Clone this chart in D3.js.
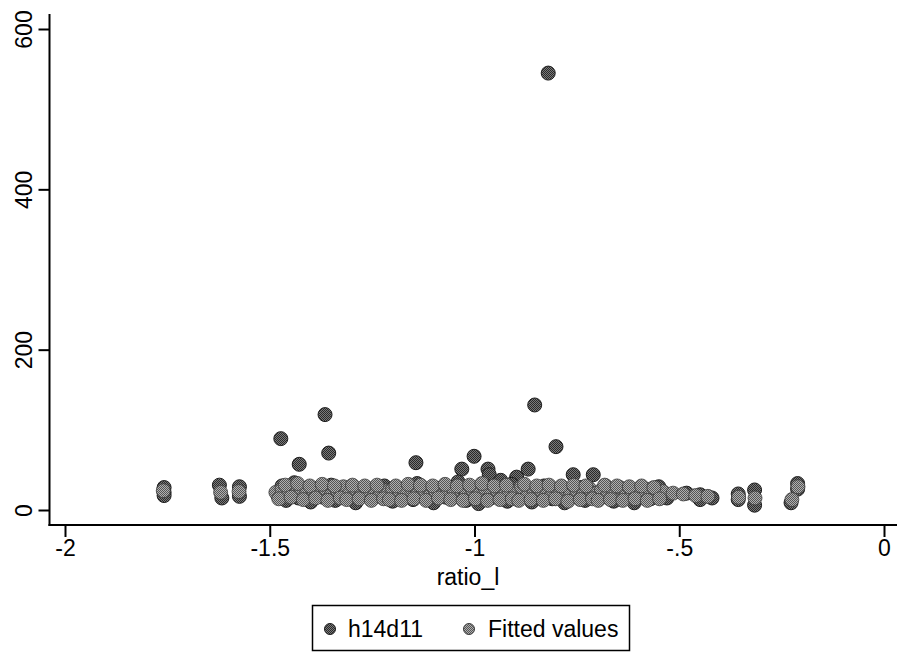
<!DOCTYPE html>
<html>
<head>
<meta charset="utf-8">
<script src="https://cdn.jsdelivr.net/npm/d3@7/dist/d3.min.js"></script>
<style>
  html, body { margin: 0; padding: 0; background: #fff; }
  svg { display: block; font-family: "Liberation Sans", Arial, sans-serif; }
</style>
</head>
<body>
<svg id="chart" width="897" height="652"></svg>
<script>
// ---- data ----
const xTicks = [-2, -1.5, -1, -0.5, 0];
const xTickLabels = ["-2", "-1.5", "-1", "-.5", "0"];
const yTicks = [0, 200, 400, 600];
const yTickLabels = ["0", "200", "400", "600"];
const xTitle = "ratio_l";
const seriesNames = ["h14d11", "Fitted values"];

// h14d11 observations: [ratio_l, value]
const h14d11 = [
  [-0.82, 545], [-0.853, 131], [-1.365, 119], [-1.473, 89], [-1.428, 57], [-1.356, 71],
  [-1.143, 59], [-1.031, 51], [-1.001, 67], [-0.967, 51], [-0.964, 44], [-0.936, 37],
  [-0.897, 41], [-0.869, 51], [-0.801, 79], [-0.759, 44], [-0.710, 44],
  [-1.758, 28], [-1.758, 22], [-1.758, 18], [-1.623, 31], [-1.617, 15], [-1.574, 29], [-1.574, 17],
  [-0.356, 20], [-0.356, 13], [-0.316, 25], [-0.316, 6], [-0.227, 9], [-0.211, 33], [-0.211, 26],
  [-0.482, 21], [-0.449, 19], [-0.449, 13], [-0.42, 15], [-0.54, 22], [-0.53, 15],
  [-1.48, 18], [-1.47, 30], [-1.46, 12], [-1.45, 25], [-1.44, 34], [-1.43, 15], [-1.41, 22],
  [-1.40, 10], [-1.38, 28], [-1.37, 16], [-1.35, 31], [-1.34, 12], [-1.32, 24], [-1.30, 18],
  [-1.29, 9], [-1.27, 27], [-1.25, 14], [-1.24, 22], [-1.22, 30], [-1.20, 11], [-1.19, 19],
  [-1.17, 26], [-1.15, 13], [-1.14, 33], [-1.12, 20], [-1.10, 9], [-1.09, 27], [-1.07, 16],
  [-1.05, 23], [-1.04, 35], [-1.02, 12], [-1.00, 20], [-0.99, 8], [-0.97, 29], [-0.96, 15],
  [-0.94, 24], [-0.92, 11], [-0.91, 32], [-0.89, 18], [-0.88, 26], [-0.86, 10], [-0.84, 22],
  [-0.83, 30], [-0.81, 14], [-0.79, 25], [-0.78, 9], [-0.76, 19], [-0.74, 28], [-0.73, 12],
  [-0.71, 21], [-0.69, 16], [-0.68, 30], [-0.66, 11], [-0.64, 24], [-0.62, 17], [-0.61, 9],
  [-0.59, 26], [-0.57, 14], [-0.56, 21], [-0.55, 29]
];

// Fitted values: [ratio_l, fitted]
const fitted = [
  [-1.485, 22], [-1.47, 26], [-1.455, 19], [-1.44, 23], [-1.425, 28], [-1.41, 20], [-1.395, 25],
  [-1.38, 21], [-1.365, 27], [-1.35, 18], [-1.335, 24], [-1.32, 29], [-1.305, 21], [-1.29, 25],
  [-1.275, 19], [-1.26, 23], [-1.245, 27], [-1.23, 20], [-1.215, 24], [-1.20, 26], [-1.185, 18],
  [-1.17, 22], [-1.155, 28], [-1.14, 21], [-1.125, 25], [-1.11, 17], [-1.095, 23], [-1.08, 27],
  [-1.065, 20], [-1.05, 24], [-1.035, 29], [-1.02, 19], [-1.005, 25], [-0.99, 22], [-0.975, 28],
  [-0.96, 18], [-0.945, 24], [-0.93, 27], [-0.915, 20], [-0.90, 23], [-0.885, 29], [-0.87, 17],
  [-0.855, 24], [-0.84, 21], [-0.825, 27], [-0.81, 19], [-0.795, 23], [-0.78, 26], [-0.765, 20],
  [-0.75, 24], [-0.735, 18], [-0.72, 27], [-0.705, 21], [-0.69, 25], [-0.675, 19], [-0.66, 23],
  [-0.645, 28], [-0.63, 20], [-0.615, 24], [-0.60, 18], [-0.585, 22], [-0.57, 26], [-0.555, 20],
  [-0.54, 23], [-0.515, 21], [-0.49, 20], [-0.46, 18], [-0.43, 17],
  [-1.76, 24], [-1.62, 22], [-1.575, 23], [-0.355, 16], [-0.315, 15], [-0.225, 13], [-0.21, 29],
  [-1.478, 14], [-1.462, 31], [-1.448, 16], [-1.432, 33], [-1.418, 13], [-1.402, 30], [-1.388, 15],
  [-1.372, 32], [-1.358, 12], [-1.342, 30], [-1.328, 15], [-1.312, 13], [-1.298, 31], [-1.282, 14],
  [-1.268, 30], [-1.252, 12], [-1.238, 31], [-1.222, 14], [-1.208, 13], [-1.192, 30], [-1.178, 12],
  [-1.162, 32], [-1.148, 14], [-1.132, 31], [-1.118, 12], [-1.102, 30], [-1.088, 15], [-1.072, 32],
  [-1.058, 13], [-1.042, 30], [-1.028, 12], [-1.012, 31], [-0.998, 14], [-0.982, 33], [-0.968, 12],
  [-0.952, 30], [-0.938, 13], [-0.922, 31], [-0.908, 14], [-0.892, 12], [-0.878, 32], [-0.862, 13],
  [-0.848, 30], [-0.832, 12], [-0.818, 31], [-0.802, 14], [-0.788, 30], [-0.772, 11], [-0.758, 31],
  [-0.742, 13], [-0.728, 30], [-0.712, 14], [-0.698, 12], [-0.682, 31], [-0.668, 13], [-0.652, 30],
  [-0.638, 12], [-0.622, 29], [-0.608, 14], [-0.592, 30], [-0.578, 12], [-0.562, 28], [-0.548, 14]
];

// ---- drawing ----
const svg = d3.select("#chart");
const x = d3.scaleLinear().domain([-2, 0]).range([65, 884]);
const y = d3.scaleLinear().domain([0, 600]).range([510, 29]);
const plotLeft = 49.5, plotBottom = 525, plotTop = 14, plotRight = 897;

const colors = { hStroke: "#1e1e1e", fStroke: "#3c3c3c" };
const R = 7;

// halftone-like patterns
const defs = svg.append("defs");
function pattern(id, bg, dot) {
  const p = defs.append("pattern").attr("id", id).attr("width", 2).attr("height", 2)
    .attr("patternUnits", "userSpaceOnUse");
  p.append("rect").attr("width", 2).attr("height", 2).attr("fill", bg);
  p.append("rect").attr("width", 1).attr("height", 1).attr("fill", dot);
  p.append("rect").attr("x", 1).attr("y", 1).attr("width", 1).attr("height", 1).attr("fill", dot);
}
pattern("patH", "#7a7a7a", "#2a2a2a");
pattern("patF", "#b0b0b0", "#555");

// markers
svg.append("g").selectAll("circle").data(h14d11).join("circle")
  .attr("cx", d => x(d[0])).attr("cy", d => y(d[1])).attr("r", R)
  .attr("fill", "url(#patH)").attr("stroke", colors.hStroke).attr("stroke-width", 1);
svg.append("g").selectAll("circle").data(fitted).join("circle")
  .attr("cx", d => x(d[0])).attr("cy", d => y(d[1])).attr("r", R)
  .attr("fill", "url(#patF)").attr("stroke", colors.fStroke).attr("stroke-width", 0.8);

// y axis
const yAxis = d3.axisLeft(y).tickValues(yTicks).tickFormat((d, i) => yTickLabels[i])
  .tickSize(11).tickPadding(8);
const gy = svg.append("g").attr("transform", `translate(${plotLeft},0)`).call(yAxis);
gy.select(".domain").remove();
gy.selectAll(".tick line").attr("stroke", "#000").attr("stroke-width", 2);
gy.selectAll(".tick text").attr("font-size", 23).attr("fill", "#000")
  .attr("text-anchor", "middle").attr("dy", 0)
  .attr("x", 0).attr("y", 0)
  .attr("transform", "translate(-18,0) rotate(-90)");
svg.append("line").attr("x1", plotLeft).attr("x2", plotLeft).attr("y1", plotTop).attr("y2", plotBottom + 1)
  .attr("stroke", "#000").attr("stroke-width", 2);

// x axis
const xAxis = d3.axisBottom(x).tickValues(xTicks).tickFormat((d, i) => xTickLabels[i])
  .tickSize(12).tickPadding(3);
const gx = svg.append("g").attr("transform", `translate(0,${plotBottom})`).call(xAxis);
gx.select(".domain").remove();
gx.selectAll(".tick line").attr("stroke", "#000").attr("stroke-width", 2);
gx.selectAll(".tick text").attr("font-size", 23).attr("fill", "#000");
svg.append("line").attr("x1", plotLeft - 1).attr("x2", plotRight).attr("y1", plotBottom).attr("y2", plotBottom)
  .attr("stroke", "#000").attr("stroke-width", 2);

// x title
svg.append("text").attr("x", 468).attr("y", 585).attr("text-anchor", "middle")
  .attr("font-size", 23).text(xTitle);

// legend
const lg = svg.append("g");
lg.append("rect").attr("x", 312.5).attr("y", 605.5).attr("width", 317).attr("height", 45)
  .attr("fill", "#fff").attr("stroke", "#000").attr("stroke-width", 1.5);
const legendItems = [
  { name: seriesNames[0], mx: 330, tx: 348, fill: "url(#patH)", stroke: colors.hStroke },
  { name: seriesNames[1], mx: 469, tx: 488, fill: "url(#patF)", stroke: colors.fStroke }
];
legendItems.forEach(it => {
  lg.append("circle").attr("cx", it.mx).attr("cy", 629).attr("r", 5.5)
    .attr("fill", it.fill).attr("stroke", it.stroke).attr("stroke-width", 1);
  lg.append("text").attr("x", it.tx).attr("y", 637).attr("font-size", 23).text(it.name);
});
</script>
</body>
</html>
